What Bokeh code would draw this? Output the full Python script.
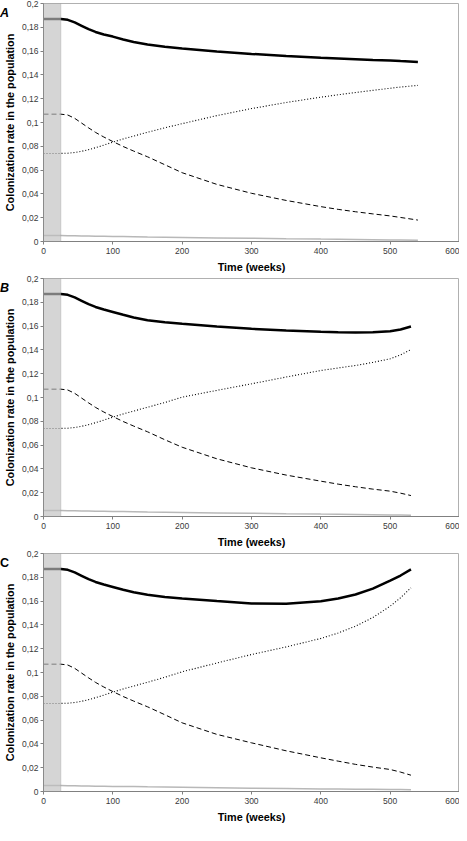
from bokeh.plotting import figure
from bokeh.layouts import column
from bokeh.models import FixedTicker, CustomJSTickFormatter, BoxAnnotation, Range1d, Div
from bokeh.embed import file_html
from bokeh.resources import INLINE

# ---- data ----
weeks_a = [0, 25, 35, 45, 55, 65, 75, 87, 100, 115, 130, 150, 175, 200, 250, 300, 350, 400, 425, 450, 475, 500, 515, 540]
weeks_bc = [0, 25, 35, 45, 55, 65, 75, 87, 100, 115, 130, 150, 175, 200, 250, 300, 350, 400, 425, 450, 475, 500, 515, 530]

a_total = [0.187, 0.187, 0.1863, 0.1841, 0.1813, 0.1785, 0.1761, 0.1739, 0.1722, 0.1698, 0.1677, 0.1655, 0.1636, 0.1622, 0.1597, 0.1576, 0.1558, 0.1544, 0.1538, 0.1532, 0.1526, 0.1521, 0.1516, 0.1508]
a_rising = [0.074, 0.074, 0.0742, 0.0748, 0.0758, 0.0772, 0.0788, 0.081, 0.0835, 0.0862, 0.0886, 0.0918, 0.0956, 0.099, 0.1058, 0.1117, 0.1168, 0.1213, 0.1233, 0.1252, 0.127, 0.1288, 0.1298, 0.1312]
a_falling = [0.107, 0.107, 0.1063, 0.1035, 0.0995, 0.0955, 0.0917, 0.0878, 0.084, 0.0798, 0.076, 0.0712, 0.0645, 0.0578, 0.048, 0.0405, 0.0345, 0.0293, 0.027, 0.025, 0.0232, 0.0215, 0.0202, 0.018]
a_minor = [0.005, 0.005, 0.0049, 0.0048, 0.0047, 0.0046, 0.0045, 0.0044, 0.0042, 0.0041, 0.004, 0.0038, 0.0036, 0.0034, 0.003, 0.0027, 0.0023, 0.002, 0.0019, 0.0017, 0.0015, 0.0013, 0.0012, 0.001]

b_total = [0.187, 0.187, 0.1863, 0.1841, 0.1813, 0.1785, 0.1761, 0.1739, 0.1719, 0.1695, 0.1673, 0.165, 0.1632, 0.1619, 0.1596, 0.1577, 0.1562, 0.1552, 0.1548, 0.1546, 0.1548, 0.1557, 0.1572, 0.1597]
b_rising = [0.074, 0.074, 0.0742, 0.0748, 0.0758, 0.0772, 0.0788, 0.081, 0.0835, 0.0862, 0.0886, 0.0918, 0.0958, 0.1003, 0.106, 0.1115, 0.1172, 0.1227, 0.1248, 0.1269, 0.1295, 0.1325, 0.1358, 0.1403]
b_falling = [0.107, 0.107, 0.1063, 0.1035, 0.0995, 0.0955, 0.0917, 0.0878, 0.084, 0.0798, 0.076, 0.0712, 0.0645, 0.0582, 0.0485, 0.0409, 0.0348, 0.0297, 0.0272, 0.025, 0.023, 0.0213, 0.0196, 0.0176]
b_minor = [0.005, 0.005, 0.0049, 0.0048, 0.0047, 0.0046, 0.0045, 0.0044, 0.0042, 0.0041, 0.004, 0.0038, 0.0036, 0.0034, 0.003, 0.0027, 0.0023, 0.002, 0.0019, 0.0017, 0.0015, 0.0013, 0.0012, 0.001]

c_total = [0.187, 0.187, 0.1863, 0.1841, 0.1813, 0.1785, 0.1761, 0.1739, 0.1719, 0.1695, 0.1675, 0.1653, 0.1635, 0.1622, 0.16, 0.158, 0.1577, 0.1599, 0.1622, 0.1655, 0.1705, 0.1773, 0.1815, 0.1866]
c_rising = [0.074, 0.074, 0.0742, 0.0748, 0.0758, 0.0772, 0.0788, 0.081, 0.0835, 0.0862, 0.0886, 0.0918, 0.096, 0.1006, 0.108, 0.1151, 0.1215, 0.1286, 0.1332, 0.1389, 0.1462, 0.1557, 0.1628, 0.1712]
c_falling = [0.107, 0.107, 0.1063, 0.1035, 0.0995, 0.0955, 0.0917, 0.0878, 0.084, 0.0798, 0.076, 0.0712, 0.0645, 0.0577, 0.048, 0.0409, 0.0342, 0.0283, 0.0255, 0.0228, 0.0205, 0.0185, 0.0163, 0.0137]
c_minor = [0.005, 0.005, 0.0049, 0.0048, 0.0047, 0.0046, 0.0045, 0.0044, 0.0043, 0.0042, 0.0041, 0.0039, 0.0037, 0.0035, 0.0031, 0.0028, 0.0025, 0.0022, 0.0021, 0.0019, 0.0018, 0.0016, 0.0016, 0.0015]

shade_end = 25
x_ticks = [0, 100, 200, 300, 400, 500, 600]
y_ticks = [0, 0.02, 0.04, 0.06, 0.08, 0.1, 0.12, 0.14, 0.16, 0.18, 0.2]
panel_letters = ["A", "B", "C"]
letter_styles = ["italic", "italic", "normal"]

FONT = "Liberation Sans"


def make_panel(weeks, total, rising, falling, minor):
    p = figure(width=459, height=275, output_backend="svg", toolbar_location=None,
               x_range=Range1d(0, 600), y_range=Range1d(0, 0.2),
               min_border_left=30, min_border_right=0, min_border_top=3, min_border_bottom=2)
    p.xgrid.visible = False
    p.ygrid.visible = False
    p.outline_line_color = "#b0b0b0"
    p.background_fill_color = "white"
    p.border_fill_alpha = 0

    p.line(weeks, minor, line_color="#b8b8b8", line_width=1.5)
    p.line(weeks, falling, line_color="black", line_width=1, line_dash="5 3")
    p.line(weeks, rising, line_color="black", line_width=1.1, line_dash="1 2")
    p.line(weeks, total, line_color="black", line_width=2.5)

    p.add_layout(BoxAnnotation(left=0, right=shade_end, fill_color="#bfbfbf", fill_alpha=0.65,
                               line_color="#8a8a8a", line_width=1, level="overlay"))

    for ax in (p.xaxis, p.yaxis):
        ax.axis_line_color = "#808080"
        ax.major_tick_line_color = "#808080"
        ax.minor_tick_line_color = None
        ax.major_tick_out = 3
        ax.major_tick_in = 0
        ax.major_label_text_font = FONT
        ax.major_label_text_font_size = "8.5px"
        ax.major_label_text_color = "#3a3a3a"
        ax.axis_label_text_font = FONT
        ax.axis_label_text_font_style = "bold"
        ax.axis_label_text_font_size = "10.8px"
        ax.axis_label_text_color = "black"

    p.xaxis.ticker = FixedTicker(ticks=x_ticks)
    p.yaxis.ticker = FixedTicker(ticks=y_ticks)
    p.yaxis.formatter = CustomJSTickFormatter(code="""
        return tick.toFixed(2).replace(/0+$/, '').replace(/\\.$/, '').replace('.', ',');
    """)
    p.xaxis.axis_label = "Time (weeks)"
    p.yaxis.axis_label = "Colonization rate in the population"
    p.xaxis.major_label_standoff = 3
    p.xaxis.axis_label_standoff = 4
    p.yaxis.major_label_standoff = 2
    p.yaxis.axis_label_standoff = 3
    return p


def make_letter(letter, style):
    return Div(text=letter, width=20, height=18, margin=(5, 0, -23, 0),
               styles={"font-family": FONT, "font-size": "12.5px", "font-weight": "bold",
                       "font-style": style, "line-height": "16px", "color": "black"})


pa = make_panel(weeks_a, a_total, a_rising, a_falling, a_minor)
pb = make_panel(weeks_bc, b_total, b_rising, b_falling, b_minor)
pc = make_panel(weeks_bc, c_total, c_rising, c_falling, c_minor)

layout = column(make_letter(panel_letters[0], letter_styles[0]), pa,
                make_letter(panel_letters[1], letter_styles[1]), pb,
                make_letter(panel_letters[2], letter_styles[2]), pc, spacing=0)
open("out.html", "w").write(file_html(layout, INLINE))
